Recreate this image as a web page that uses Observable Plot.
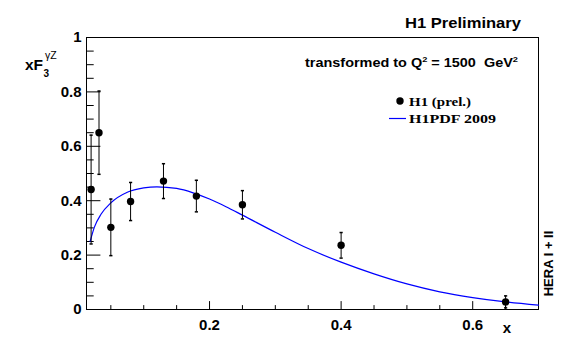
<!DOCTYPE html>
<html>
<head>
<meta charset="utf-8">
<script src="https://cdn.jsdelivr.net/npm/d3@7"></script>
<script src="https://cdn.jsdelivr.net/npm/@observablehq/plot@0.6"></script>
<style>
  html, body { margin: 0; padding: 0; background: #fff; }
  #chart svg { display: block; }
</style>
</head>
<body>
<div id="chart"></div>
<script>
// H1 preliminary measurements
const xData = [0.02, 0.032, 0.05, 0.08, 0.13, 0.18, 0.25, 0.40, 0.65];
const yData = [0.441, 0.650, 0.302, 0.397, 0.472, 0.417, 0.385, 0.236, 0.028];
const yErr  = [0.200, 0.153, 0.104, 0.070, 0.064, 0.058, 0.052, 0.047, 0.022];

// H1PDF 2009 curve
const curveX = [0.0185, 0.025, 0.035, 0.05, 0.075, 0.10, 0.12, 0.15, 0.175, 0.20, 0.225, 0.25, 0.30, 0.35, 0.40, 0.45, 0.50, 0.55, 0.60, 0.65, 0.70];
const curveY = [0.250, 0.303, 0.350, 0.392, 0.431, 0.447, 0.451, 0.445, 0.429, 0.406, 0.378, 0.347, 0.284, 0.224, 0.174, 0.131, 0.094, 0.065, 0.044, 0.028, 0.016];

// axis ticks
const xLabelTicks = [0.2, 0.4, 0.6];
const xMinorTicks = [0.05, 0.1, 0.15, 0.25, 0.3, 0.35, 0.45, 0.5, 0.55, 0.65];
const yLabelTicks = [0, 0.2, 0.4, 0.6, 0.8, 1];
const yMinorTicks = [0.05, 0.1, 0.15, 0.25, 0.3, 0.35, 0.45, 0.5, 0.55, 0.65, 0.7, 0.75, 0.85, 0.9, 0.95];

const points = xData.map((x, i) => ({x, y: yData[i], lo: yData[i] - yErr[i], hi: yData[i] + yErr[i]}));
const curve = curveX.map((x, i) => ({x, y: curveY[i]}));

const capSymbol = { draw(ctx) { ctx.moveTo(-1.6, 0); ctx.lineTo(1.6, 0); } };
const tickShape = { draw(ctx, l) { ctx.moveTo(0, 0); ctx.lineTo(0, -l); } };
const SANS = "'Liberation Sans', Arial, Helvetica, sans-serif";
const SERIF = "'Liberation Serif', 'Times New Roman', serif";

const xTick = (data, len) => Plot.vector(data, {x: d => d, frameAnchor: "bottom", length: len, rotate: 0, anchor: "start", shape: tickShape, stroke: "black", strokeWidth: 1});
const yTick = (data, len) => Plot.vector(data, {y: d => d, frameAnchor: "left", length: len, rotate: 90, anchor: "start", shape: tickShape, stroke: "black", strokeWidth: 1});

const svg = Plot.plot({
  width: 567,
  height: 364,
  marginLeft: 86,
  marginRight: 29,
  marginTop: 37,
  marginBottom: 55,
  x: {domain: [0.013, 0.7]},
  y: {domain: [0, 1]},
  style: {fontFamily: SANS, fontSize: "15px", fontWeight: "bold", color: "black", background: "white", overflow: "visible"},
  marks: [
    Plot.frame({stroke: "black", strokeWidth: 1}),
    Plot.axisX(xLabelTicks, {tickSize: 0, tickPadding: 10, label: null, fontSize: 15, fontWeight: "bold", letterSpacing: 0.6}),
    Plot.axisY(yLabelTicks, {tickSize: 0, tickPadding: 5, label: null, fontSize: 15, fontWeight: "bold", letterSpacing: 0.6, tickFormat: d => String(d)}),
    xTick(xLabelTicks, 8),
    xTick(xMinorTicks, 4),
    yTick(yLabelTicks, 13.5),
    yTick(yMinorTicks, 6.8),
    Plot.line(curve, {x: "x", y: "y", stroke: "#0000ff", strokeWidth: 1.2, curve: "monotone-x"}),
    Plot.ruleX(points, {x: "x", y1: "lo", y2: "hi", stroke: "black", strokeWidth: 1}),
    Plot.dot(points, {x: "x", y: "lo", symbol: capSymbol, stroke: "black", fill: "none", r: 2}),
    Plot.dot(points, {x: "x", y: "hi", symbol: capSymbol, stroke: "black", fill: "none", r: 2}),
    Plot.dot(points, {x: "x", y: "y", r: 3.7, fill: "black", stroke: "none"})
  ]
});

document.getElementById("chart").appendChild(svg);

// annotations
const s = d3.select(svg);
const t = (x, y, txt, size, opts = {}) => {
  const el = s.append("text")
    .attr("x", x).attr("y", y)
    .attr("font-family", opts.family || SANS)
    .attr("font-size", size)
    .attr("font-weight", opts.weight || "bold")
    .attr("fill", "black")
    .attr("text-anchor", opts.anchor || "start")
    .text(txt);
  if (opts.len) el.attr("textLength", opts.len).attr("lengthAdjust", "spacingAndGlyphs");
  return el;
};

t(405, 28, "H1 Preliminary", 14.5, {len: 116});

// transformed to Q^2 = 1500 GeV^2
const tr = s.append("text")
  .attr("x", 305).attr("y", 67)
  .attr("text-anchor", "start")
  .attr("font-family", SANS).attr("font-size", 12.5).attr("font-weight", "bold")
  .attr("textLength", 213).attr("lengthAdjust", "spacingAndGlyphs");
tr.append("tspan").text("transformed to Q");
tr.append("tspan").attr("font-size", 8).attr("dy", -5).text("2");
tr.append("tspan").attr("dy", 5).text(" = 1500  GeV");
tr.append("tspan").attr("font-size", 8).attr("dy", -5).text("2");

// y-axis title xF3^{γZ}
t(25, 70, "xF", 15.5);
t(43.5, 77, "3", 10);
t(45, 59, "γZ", 10.5, {weight: "normal"});

// x label
t(507, 333, "x", 15, {anchor: "middle"});

// HERA I + II (vertical)
s.append("text")
  .attr("transform", "translate(553,263.5) rotate(-90)")
  .attr("font-family", SANS).attr("font-size", 13).attr("font-weight", "bold")
  .attr("text-anchor", "middle")
  .text("HERA I + II");

// legend
s.append("circle").attr("cx", 400).attr("cy", 101).attr("r", 3.7).attr("fill", "black");
t(409, 105.5, "H1 (prel.)", 13, {family: SERIF, len: 62});
s.append("line").attr("x1", 389).attr("x2", 406).attr("y1", 118.5).attr("y2", 118.5)
  .attr("stroke", "#0000ff").attr("stroke-width", 1.2);
t(409, 123, "H1PDF 2009", 13, {family: SERIF, len: 87});
</script>
</body>
</html>
